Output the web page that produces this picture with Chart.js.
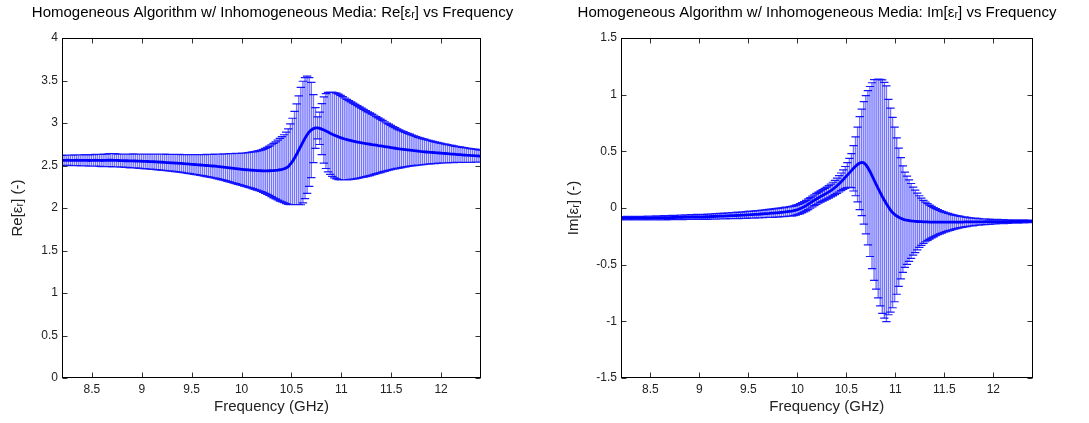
<!DOCTYPE html>
<html><head><meta charset="utf-8">
<script src="https://cdn.jsdelivr.net/npm/chart.js@4.4.0/dist/chart.umd.min.js"></script>
<style>
html,body{margin:0;padding:0;background:#fff;}
#wrap{position:relative;width:1089px;height:423px;overflow:hidden;}
.box{position:absolute;top:0;height:423px;}
#b1{left:0;width:545px;} #b2{left:545px;width:544px;}
</style></head><body>
<div id="wrap"><div class="box" id="b1"><canvas id="c1"></canvas></div><div class="box" id="b2"><canvas id="c2"></canvas></div></div>
<script>
const freq = [8.200,8.221,8.242,8.263,8.284,8.305,8.326,8.347,8.368,8.389,
8.410,8.431,8.452,8.473,8.494,8.515,8.536,8.557,8.578,8.599,
8.620,8.641,8.662,8.683,8.704,8.725,8.746,8.767,8.788,8.809,
8.830,8.851,8.872,8.893,8.914,8.935,8.956,8.977,8.998,9.019,
9.040,9.061,9.082,9.103,9.124,9.145,9.166,9.187,9.208,9.229,
9.250,9.271,9.292,9.313,9.334,9.355,9.376,9.397,9.418,9.439,
9.460,9.481,9.502,9.523,9.544,9.565,9.586,9.607,9.628,9.649,
9.670,9.691,9.712,9.733,9.754,9.775,9.796,9.817,9.838,9.859,
9.880,9.901,9.922,9.943,9.964,9.985,10.006,10.027,10.048,10.069,
10.090,10.111,10.132,10.153,10.174,10.195,10.216,10.237,10.258,10.279,
10.300,10.321,10.342,10.363,10.384,10.405,10.426,10.447,10.468,10.489,
10.510,10.531,10.552,10.573,10.594,10.615,10.636,10.657,10.678,10.699,
10.720,10.741,10.762,10.783,10.804,10.825,10.846,10.867,10.888,10.909,
10.930,10.951,10.972,10.993,11.014,11.035,11.056,11.077,11.098,11.119,
11.140,11.161,11.182,11.203,11.224,11.245,11.266,11.287,11.308,11.329,
11.350,11.371,11.392,11.413,11.434,11.455,11.476,11.497,11.518,11.539,
11.560,11.581,11.602,11.623,11.644,11.665,11.686,11.707,11.728,11.749,
11.770,11.791,11.812,11.833,11.854,11.875,11.896,11.917,11.938,11.959,
11.980,12.001,12.022,12.043,12.064,12.085,12.106,12.127,12.148,12.169,
12.190,12.211,12.232,12.253,12.274,12.295,12.316,12.337,12.358,12.379,
12.400];

const reMean = [2.560,2.561,2.560,2.562,2.561,2.560,2.561,2.562,2.561,2.560,
2.560,2.561,2.560,2.559,2.560,2.561,2.562,2.561,2.560,2.559,
2.560,2.561,2.562,2.563,2.562,2.561,2.560,2.559,2.558,2.557,
2.556,2.556,2.555,2.554,2.554,2.553,2.552,2.551,2.550,2.549,
2.548,2.547,2.546,2.545,2.544,2.543,2.541,2.539,2.538,2.537,
2.535,2.534,2.532,2.531,2.529,2.528,2.526,2.524,2.522,2.520,
2.518,2.516,2.514,2.512,2.510,2.508,2.506,2.504,2.502,2.500,
2.498,2.496,2.494,2.492,2.489,2.487,2.485,2.482,2.479,2.476,
2.473,2.470,2.467,2.464,2.461,2.458,2.455,2.452,2.450,2.448,
2.446,2.444,2.442,2.440,2.439,2.438,2.437,2.437,2.437,2.438,
2.439,2.440,2.443,2.446,2.450,2.455,2.462,2.472,2.487,2.515,
2.548,2.588,2.632,2.680,2.728,2.776,2.822,2.862,2.895,2.918,
2.934,2.942,2.943,2.937,2.928,2.917,2.905,2.893,2.880,2.868,
2.857,2.847,2.837,2.828,2.820,2.812,2.805,2.798,2.792,2.786,
2.781,2.776,2.771,2.767,2.762,2.758,2.754,2.750,2.746,2.743,
2.740,2.735,2.731,2.727,2.723,2.719,2.715,2.711,2.707,2.703,
2.699,2.695,2.692,2.689,2.686,2.683,2.680,2.677,2.674,2.671,
2.668,2.665,2.663,2.661,2.659,2.657,2.655,2.653,2.651,2.649,
2.647,2.645,2.643,2.641,2.639,2.637,2.635,2.633,2.631,2.629,
2.627,2.625,2.623,2.621,2.620,2.618,2.617,2.615,2.614,2.612,
2.611];

const reErr = [0.060,0.060,0.061,0.061,0.062,0.062,0.063,0.063,0.064,0.064,
0.065,0.066,0.066,0.067,0.068,0.068,0.069,0.070,0.071,0.072,
0.073,0.074,0.076,0.077,0.078,0.078,0.077,0.076,0.076,0.077,
0.078,0.079,0.080,0.081,0.082,0.082,0.083,0.084,0.085,0.086,
0.087,0.088,0.089,0.090,0.091,0.092,0.093,0.094,0.095,0.096,
0.097,0.098,0.099,0.100,0.101,0.103,0.104,0.105,0.107,0.108,
0.110,0.112,0.114,0.116,0.118,0.120,0.122,0.124,0.127,0.130,
0.132,0.135,0.138,0.141,0.144,0.147,0.150,0.154,0.158,0.162,
0.166,0.170,0.174,0.178,0.182,0.186,0.190,0.195,0.200,0.205,
0.210,0.216,0.222,0.229,0.236,0.244,0.253,0.264,0.276,0.290,
0.305,0.320,0.336,0.352,0.368,0.384,0.400,0.420,0.445,0.475,
0.508,0.548,0.592,0.640,0.690,0.715,0.712,0.690,0.640,0.560,
0.400,0.240,0.130,0.190,0.300,0.390,0.440,0.468,0.484,0.495,
0.502,0.505,0.503,0.498,0.490,0.482,0.474,0.465,0.456,0.447,
0.438,0.428,0.418,0.408,0.398,0.388,0.378,0.368,0.358,0.348,
0.336,0.325,0.314,0.303,0.292,0.281,0.271,0.261,0.251,0.242,
0.233,0.225,0.217,0.209,0.202,0.195,0.188,0.182,0.176,0.170,
0.164,0.159,0.154,0.149,0.144,0.140,0.136,0.132,0.128,0.124,
0.120,0.116,0.113,0.110,0.107,0.104,0.101,0.098,0.095,0.093,
0.091,0.089,0.087,0.085,0.083,0.081,0.079,0.077,0.075,0.073,
0.071];

const imMean = [-0.090,-0.091,-0.090,-0.089,-0.090,-0.091,-0.090,-0.089,-0.089,-0.090,
-0.090,-0.089,-0.089,-0.088,-0.089,-0.088,-0.088,-0.087,-0.088,-0.087,
-0.087,-0.086,-0.086,-0.085,-0.085,-0.084,-0.084,-0.083,-0.083,-0.082,
-0.082,-0.081,-0.081,-0.080,-0.080,-0.079,-0.079,-0.078,-0.078,-0.078,
-0.078,-0.077,-0.077,-0.076,-0.075,-0.075,-0.074,-0.073,-0.072,-0.072,
-0.071,-0.070,-0.069,-0.068,-0.068,-0.067,-0.066,-0.065,-0.064,-0.063,
-0.062,-0.061,-0.060,-0.059,-0.058,-0.057,-0.056,-0.055,-0.053,-0.052,
-0.050,-0.049,-0.048,-0.046,-0.045,-0.043,-0.042,-0.040,-0.038,-0.036,
-0.034,-0.032,-0.030,-0.028,-0.024,-0.019,-0.013,-0.006,0.002,0.011,
0.021,0.033,0.045,0.057,0.069,0.080,0.091,0.101,0.111,0.121,
0.131,0.142,0.154,0.167,0.181,0.196,0.213,0.231,0.250,0.270,
0.290,0.310,0.330,0.350,0.368,0.384,0.396,0.402,0.398,0.382,
0.355,0.322,0.285,0.247,0.209,0.172,0.136,0.101,0.068,0.037,
0.008,-0.018,-0.040,-0.057,-0.071,-0.082,-0.091,-0.098,-0.104,-0.108,
-0.111,-0.114,-0.116,-0.118,-0.119,-0.120,-0.121,-0.122,-0.123,-0.123,
-0.124,-0.124,-0.125,-0.125,-0.125,-0.125,-0.125,-0.125,-0.125,-0.125,
-0.125,-0.125,-0.124,-0.124,-0.124,-0.124,-0.124,-0.123,-0.123,-0.123,
-0.123,-0.123,-0.122,-0.122,-0.122,-0.122,-0.122,-0.121,-0.121,-0.121,
-0.121,-0.121,-0.121,-0.120,-0.120,-0.120,-0.120,-0.120,-0.120,-0.119,
-0.119,-0.119,-0.119,-0.119,-0.119,-0.118,-0.118,-0.118,-0.118,-0.118,
-0.118];

const imErr = [0.015,0.015,0.015,0.016,0.015,0.015,0.016,0.016,0.015,0.016,
0.016,0.016,0.016,0.017,0.016,0.017,0.017,0.017,0.017,0.017,
0.018,0.018,0.018,0.018,0.018,0.019,0.019,0.019,0.019,0.019,
0.020,0.020,0.020,0.020,0.021,0.021,0.021,0.021,0.022,0.022,
0.022,0.022,0.023,0.023,0.023,0.024,0.024,0.024,0.025,0.025,
0.025,0.026,0.026,0.026,0.027,0.027,0.028,0.028,0.028,0.029,
0.029,0.030,0.030,0.031,0.031,0.032,0.032,0.033,0.033,0.034,
0.034,0.035,0.035,0.036,0.037,0.037,0.038,0.039,0.039,0.040,
0.041,0.041,0.042,0.043,0.043,0.044,0.044,0.045,0.045,0.046,
0.046,0.047,0.047,0.048,0.048,0.049,0.049,0.050,0.051,0.052,
0.053,0.055,0.057,0.060,0.063,0.067,0.072,0.078,0.086,0.096,
0.110,0.128,0.150,0.200,0.260,0.330,0.410,0.470,0.540,0.610,
0.680,0.750,0.820,0.885,0.925,0.965,1.000,1.030,1.040,1.040,
0.950,0.900,0.840,0.770,0.690,0.610,0.535,0.470,0.420,0.390,
0.360,0.330,0.300,0.275,0.250,0.228,0.208,0.190,0.175,0.162,
0.150,0.139,0.129,0.120,0.111,0.103,0.096,0.089,0.083,0.077,
0.072,0.067,0.062,0.058,0.054,0.050,0.047,0.044,0.041,0.038,
0.036,0.034,0.032,0.030,0.029,0.027,0.026,0.025,0.024,0.023,
0.021,0.020,0.019,0.019,0.018,0.017,0.017,0.016,0.016,0.015,
0.015,0.014,0.014,0.014,0.013,0.013,0.013,0.012,0.012,0.012,
0.012];

const xTicks = [8.5, 9, 9.5, 10, 10.5, 11, 11.5, 12];
const reTicks = [0, 0.5, 1, 1.5, 2, 2.5, 3, 3.5, 4];
const imTicks = [-1.5, -1, -0.5, 0, 0.5, 1, 1.5];

Chart.defaults.font.family = "'Liberation Sans', Arial, sans-serif";
Chart.defaults.color = '#222';

const errorBars = {
  id: 'errorBars',
  beforeDatasetsDraw(chart, args, opts) {
    const {ctx, chartArea: a, scales: {x, y}} = chart;
    ctx.save();
    ctx.beginPath();
    ctx.rect(a.left, a.top, a.right - a.left, a.bottom - a.top);
    ctx.clip();
    ctx.lineWidth = opts.stemWidth;
    ctx.strokeStyle = opts.stemColor;
    opts.xs.forEach((f, i) => {
      const px = x.getPixelForValue(f);
      ctx.beginPath();
      ctx.moveTo(px, y.getPixelForValue(opts.mean[i] + opts.err[i]));
      ctx.lineTo(px, y.getPixelForValue(opts.mean[i] - opts.err[i]));
      ctx.stroke();
    });
    ctx.lineWidth = 1.2;
    ctx.strokeStyle = opts.capColor;
    ctx.beginPath();
    opts.xs.forEach((f, i) => {
      const l = x.getPixelForValue(f - opts.cap), r = x.getPixelForValue(f + opts.cap);
      const yt = y.getPixelForValue(opts.mean[i] + opts.err[i]);
      const yb = y.getPixelForValue(opts.mean[i] - opts.err[i]);
      ctx.moveTo(l, yt); ctx.lineTo(r, yt);
      ctx.moveTo(l, yb); ctx.lineTo(r, yb);
    });
    ctx.stroke();
    ctx.restore();
  }
};

const frame = {
  id: 'frame',
  afterDraw(chart) {
    const {ctx, chartArea: a, scales: {x, y}} = chart;
    const L = Math.round(a.left) + 0.5, R = Math.round(a.right) - 0.5;
    const T = Math.round(a.top) + 0.5, B = Math.round(a.bottom) - 0.5;
    ctx.save();
    ctx.lineWidth = 1;
    ctx.strokeStyle = '#333';
    ctx.beginPath();
    x.ticks.forEach(t => {
      const px = Math.round(x.getPixelForValue(t.value)) + 0.5;
      ctx.moveTo(px, B); ctx.lineTo(px, B - 5);
      ctx.moveTo(px, T); ctx.lineTo(px, T + 5);
    });
    y.ticks.forEach(t => {
      const py = Math.round(y.getPixelForValue(t.value)) + 0.5;
      ctx.moveTo(L, py); ctx.lineTo(L + 5, py);
      ctx.moveTo(R, py); ctx.lineTo(R - 5, py);
    });
    ctx.stroke();
    ctx.strokeStyle = '#000';
    ctx.strokeRect(L, T, R - L, B - T);
    ctx.restore();
  }
};

function makeChart(id, cfg) {
  return new Chart(document.getElementById(id), {
    type: 'line',
    data: {
      datasets: [{
        data: freq.map((f, i) => ({x: f, y: cfg.mean[i]})),
        borderColor: '#0000ff',
        borderWidth: 2.8,
        pointRadius: 0,
        tension: 0,
        fill: false
      }]
    },
    options: {
      responsive: true,
      maintainAspectRatio: false,
      animation: false,
      layout: {padding: {left: 0, right: 0, top: 0, bottom: 0}},
      plugins: {
        legend: {display: false},
        tooltip: {enabled: false},
        title: {
          display: true, text: cfg.title, fullSize: true, color: '#000',
          font: {size: 15, weight: 'normal'}, padding: {top: 3.8, bottom: 16.2}
        },
        errorBars: {xs: freq, mean: cfg.mean, err: cfg.err, cap: 0.042,
          stemWidth: 1.4, stemColor: 'rgba(30,30,255,0.62)', capColor: 'rgba(0,0,255,0.9)'}
      },
      scales: {
        x: {
          type: 'linear', min: 8.2, max: 12.4,
          grid: {display: false, drawTicks: false}, border: {display: false},
          afterBuildTicks: s => { s.ticks = xTicks.map(v => ({value: v})); },
          afterFit: s => { s.height = 45; },
          ticks: {padding: 4, font: {size: 12}, color: '#222', maxRotation: 0, callback: v => String(v)},
          title: {display: true, text: 'Frequency (GHz)', color: '#222', font: {size: 15}, padding: {top: 0, bottom: 7}}
        },
        y: {
          type: 'linear', min: cfg.ymin, max: cfg.ymax,
          grid: {display: false, drawTicks: false}, border: {display: false},
          afterBuildTicks: s => { s.ticks = cfg.yTicks.map(v => ({value: v})); },
          afterFit: s => { s.width = cfg.yWidth; },
          ticks: {padding: 4, font: {size: 12}, color: '#222', callback: v => String(v)},
          title: {display: true, text: cfg.ylabel, color: '#222', font: {size: 15}, padding: {top: cfg.ytitlePad, bottom: 0}}
        },
        spacer: {
          type: 'linear', position: 'right', display: true,
          grid: {display: false, drawTicks: false}, border: {display: false},
          ticks: {display: false},
          afterFit: s => { s.width = cfg.padRight; }
        }
      }
    },
    plugins: [errorBars, frame]
  });
}

makeChart('c1', {
  mean: reMean, err: reErr, ymin: 0, ymax: 4, yTicks: reTicks,
  title: 'Homogeneous Algorithm w/ Inhomogeneous Media: Re[εᵣ] vs Frequency',
  ylabel: 'Re[εᵣ] (-)', yWidth: 62, padRight: 64, ytitlePad: 9
});
makeChart('c2', {
  mean: imMean, err: imErr, ymin: -1.5, ymax: 1.5, yTicks: imTicks,
  title: 'Homogeneous Algorithm w/ Inhomogeneous Media: Im[εᵣ] vs Frequency',
  ylabel: 'Im[εᵣ] (-)', yWidth: 76, padRight: 56.5, ytitlePad: 20
});
</script>
</body></html>
